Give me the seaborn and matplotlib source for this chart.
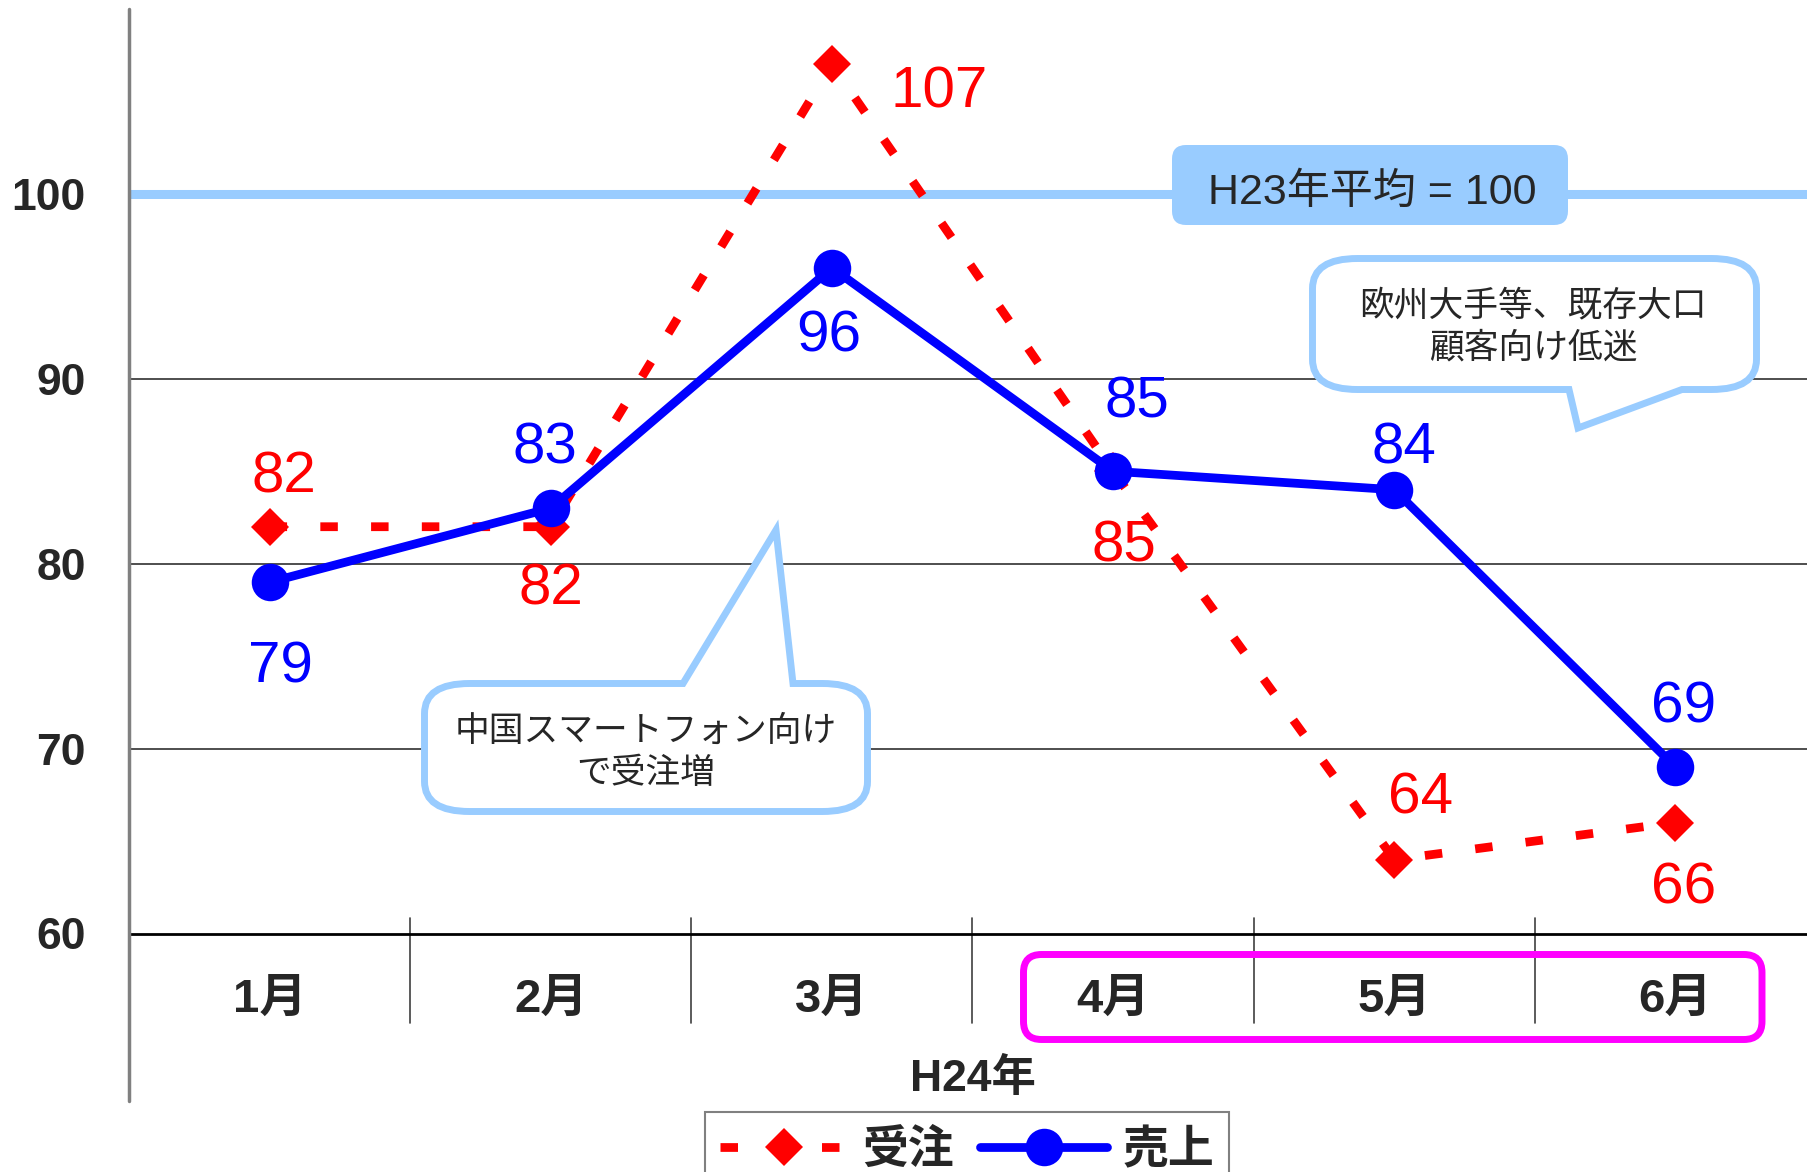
import numpy as np
import pandas as pd
import matplotlib
matplotlib.use('Agg')
import matplotlib.pyplot as plt
import seaborn as sns
from matplotlib.path import Path
from matplotlib.patches import PathPatch
from matplotlib.lines import Line2D
import matplotlib.transforms as mtransforms

# ---------------- data ----------------
months = ['1月', '2月', '3月', '4月', '5月', '6月']
orders = [82, 82, 107, 85, 64, 66]      # 受注
sales = [79, 83, 96, 85, 84, 69]        # 売上
series_names = ['受注', '売上']
y_ticks = [60, 70, 80, 90, 100, 110]
y_tick_labels = ['60', '70', '80', '90', '100', '']
baseline_value = 100
baseline_label = 'H23年平均 = 100'
x_title = 'H24年'
note_china = '中国スマートフォン向け\nで受注増'
note_europe = '欧州大手等、既存大口\n顧客向け低迷'

# label offsets in points (layout only)
order_offsets = [(10, 40), (0, -41), (77, -16), (8, -50), (19, 48), (6, -43)]
sales_offsets = [(8, -57), (-4, 47), (-2, -45), (17, 54), (7, 34), (6, 47)]

RED = '#FF0000'
BLUE = '#0000FF'
LIGHT = '#99CCFF'

W, H = 1807, 1172
sns.set_theme(style='white')
plt.rcParams['font.family'] = ['Liberation Sans', 'Noto Sans CJK JP', 'DejaVu Sans']

fig = plt.figure(figsize=(W / 100, H / 100), dpi=100)
ax = fig.add_axes([129 / W, 1 - 933.5 / H, 1687 / W, 924.5 / H])

df = pd.DataFrame({
    'month': months * 2,
    'value': orders + sales,
    'series': [series_names[0]] * len(months) + [series_names[1]] * len(months),
})

sns.lineplot(data=df, x='month', y='value', hue='series', style='series',
             hue_order=series_names, style_order=series_names,
             palette={series_names[0]: RED, series_names[1]: BLUE},
             markers={series_names[0]: 'D', series_names[1]: 'o'},
             dashes={series_names[0]: (2.0, 3.8), series_names[1]: ''},
             linewidth=6.3, markeredgewidth=0, errorbar=None, sort=False,
             legend=False, ax=ax, zorder=5)
line_orders, line_sales = ax.lines[0], ax.lines[1]
line_orders.set_markersize(19)
line_sales.set_markersize(27)
line_sales.set_zorder(6)

ax.set_xlim(-0.5, len(months) - 0.5)
ax.set_ylim(y_ticks[0], y_ticks[-1])

# grid lines and baseline
ax.hlines(y_ticks[1:-2], -0.5, len(months) - 0.5, color='#404040', lw=1.3, zorder=1)
ax.axhline(baseline_value, color=LIGHT, lw=6.5, zorder=2)

# spines
for s in ['top', 'right', 'left']:
    ax.spines[s].set_visible(False)
ax.spines['bottom'].set_color('black')
ax.spines['bottom'].set_linewidth(2)
ax.add_line(Line2D([0, 0], [-0.181, 1], transform=ax.transAxes, clip_on=False,
                   color='#808080', lw=2.5, zorder=7))

# ticks
ax.set_yticks(y_ticks, y_tick_labels)
ax.tick_params(axis='y', direction='in', length=11, width=1.5, color='#404040',
               pad=31, labelsize=32)
for lab in ax.get_yticklabels():
    lab.set_fontweight('bold')
ax.tick_params(axis='x', length=0, pad=32, labelsize=34)
for lab in ax.get_xticklabels():
    lab.set_fontweight('bold')
ax.set_xlabel('')
ax.set_ylabel('')

# category separators
trans = mtransforms.blended_transform_factory(ax.transData, ax.transAxes)
for b in np.arange(1, len(months)) - 0.5:
    ax.add_line(Line2D([b, b], [0.0168, -0.0968], transform=trans, clip_on=False,
                       color='#404040', lw=1.2))

fig.text(973 / W, 1 - 1079 / H, x_title, ha='center', va='center',
         fontsize=32, fontweight='bold')

# data labels
for i, (v, off) in enumerate(zip(orders, order_offsets)):
    ax.annotate(str(v), (i, v), xytext=off, textcoords='offset points',
                ha='center', va='center_baseline', color=RED, fontsize=42, zorder=8)
for i, (v, off) in enumerate(zip(sales, sales_offsets)):
    ax.annotate(str(v), (i, v), xytext=off, textcoords='offset points',
                ha='center', va='center_baseline', color=BLUE, fontsize=42, zorder=8)


# ---------------- decorations ----------------
def px(x, y):
    return (x / W, 1 - y / H)


def rounded_shape(x0, y0, x1, y1, rx, ry, tail=None, side=None, **kw):
    verts, codes = [], []

    def M(p):
        verts.append(px(*p)); codes.append(Path.MOVETO)

    def L(p):
        verts.append(px(*p)); codes.append(Path.LINETO)

    def C(c, p):
        verts.extend([px(*c), px(*p)]); codes.extend([Path.CURVE3, Path.CURVE3])

    M((x0 + rx, y0))
    if side == 'top':
        ta, tb, tip = tail
        L((ta, y0)); L(tip); L((tb, y0))
    L((x1 - rx, y0)); C((x1, y0), (x1, y0 + ry))
    L((x1, y1 - ry)); C((x1, y1), (x1 - rx, y1))
    if side == 'bottom':
        ta, tb, tip = tail
        L((tb, y1)); L(tip); L((ta, y1))
    L((x0 + rx, y1)); C((x0, y1), (x0, y1 - ry))
    L((x0, y0 + ry)); C((x0, y0), (x0 + rx, y0))
    verts.append(px(x0 + rx, y0)); codes.append(Path.CLOSEPOLY)
    p = PathPatch(Path(verts, codes), transform=fig.transFigure, **kw)
    fig.add_artist(p)
    return p


# baseline label box
rounded_shape(1172, 145, 1568, 225, 14, 14, fc=LIGHT, ec='none', zorder=2)
fig.text(1372 / W, 1 - 193 / H, baseline_label, ha='center', va='center',
         fontsize=31, zorder=3)

# callouts
rounded_shape(424.5, 683.5, 867.5, 811.5, 45, 30,
              tail=(683, 793, (776, 530)), side='top',
              fc='white', ec=LIGHT, lw=5, joinstyle='miter', zorder=2)
fig.text(646 / W, 1 - 752 / H, note_china, ha='center', va='center',
         fontsize=25, linespacing=1.35, zorder=3)

rounded_shape(1312.5, 258.5, 1756.5, 389.5, 45, 30,
              tail=(1569, 1682, (1578, 428)), side='bottom',
              fc='white', ec=LIGHT, lw=5, joinstyle='miter', zorder=2)
fig.text(1533 / W, 1 - 327 / H, note_europe, ha='center', va='center',
         fontsize=25, linespacing=1.35, zorder=3)

# magenta highlight box around 4-6月
rounded_shape(1023.5, 954.5, 1762, 1039.5, 18, 18, fc='none', ec='#FF00FF',
              lw=5, zorder=2)

# legend
leg = fig.legend([line_orders, line_sales], series_names, loc='upper left',
                 bbox_to_anchor=(705 / W, 1 - 1112 / H), ncol=2, frameon=True,
                 fancybox=False, edgecolor='#808080', framealpha=1,
                 prop=dict(weight='bold', size=33, family=['Noto Sans CJK JP']),
                 handlelength=2.77, handletextpad=0.33, columnspacing=0.57,
                 borderpad=0.33, borderaxespad=0, numpoints=1)
leg.get_frame().set_linewidth(1.5)

fig.savefig('out.png', dpi=100)
